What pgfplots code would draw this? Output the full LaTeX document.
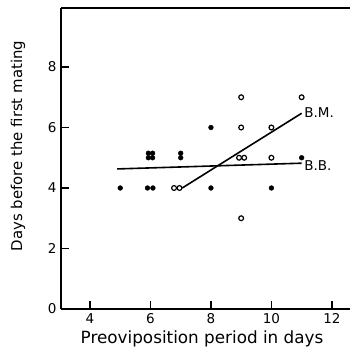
\documentclass[border=0pt]{standalone}
\usepackage{fontspec}
\setmainfont{DejaVu Sans}
\usepackage{pgfplots}
\pgfplotsset{compat=1.18}
\begin{document}
\begin{tikzpicture}
\begin{axis}[
  name=ax,
  scale only axis,
  width=289pt, height=301pt,
  xmin=3.04, xmax=12.6, ymin=0, ymax=9.95,
  axis x line*=bottom, axis y line*=left,
  axis line style={-, line width=1.5pt},
  xtick={4,6,8,10,12}, ytick={0,2,4,6,8},
  xtick align=inside, ytick align=inside,
  major tick length=8pt,
  tick style={line width=1.3pt, black},
  /pgf/number format/assume math mode=true,
  tick label style={font=\fontsize{13.5}{13.5}\selectfont},
  xticklabel style={yshift=-1pt},
  yticklabel style={xshift=-1pt},
  xlabel={Preoviposition period in days},
  ylabel={Days before the first mating},
  xlabel style={font=\fontsize{16.8}{16.8}\selectfont, at={(axis description cs:0.488,0)}, anchor=center, yshift=-30pt},
  ylabel style={font=\fontsize{14.9}{14.9}\selectfont, at={(axis description cs:0,0.5415)}, anchor=center, yshift=43pt},
  clip=false,
]
% B.B. filled
\addplot[only marks, mark=*, mark size=2.4pt, black] coordinates {
 (5,4) (5.9,4) (6.08,4) (8,4) (10,4)
 (5.93,5.0) (6.07,5.0) (5.93,5.15) (6.07,5.15)
 (7,5.0) (7,5.15) (8,6) (11,5)
};
% B.M. open
\addplot[only marks, mark=o, mark size=2.4pt, line width=1.2pt, black] coordinates {
 (6.78,4) (6.96,4) (9,3) (8.93,5) (9.1,5) (10,5) (9,6) (10,6) (9,7) (11,7)
};
\addplot[black, line width=1.6pt] coordinates {(4.9,4.63) (11,4.82)};
\addplot[black, line width=1.6pt] coordinates {(7.05,4) (11,6.47)};
\draw[line width=1.5pt] (rel axis cs:0,1) -- (rel axis cs:1,1);
\node[anchor=west, font=\fontsize{13.5}{13.5}\selectfont, inner sep=1pt] at (axis cs:11.05,6.5) {B.M.};
\node[anchor=west, font=\fontsize{13.5}{13.5}\selectfont, inner sep=1pt] at (axis cs:11.05,4.75) {B.B.};
\end{axis}
\pgfresetboundingbox
\path (ax.south west) ++(-61pt,-47pt) rectangle ++(353pt,356pt);
\end{tikzpicture}
\end{document}
